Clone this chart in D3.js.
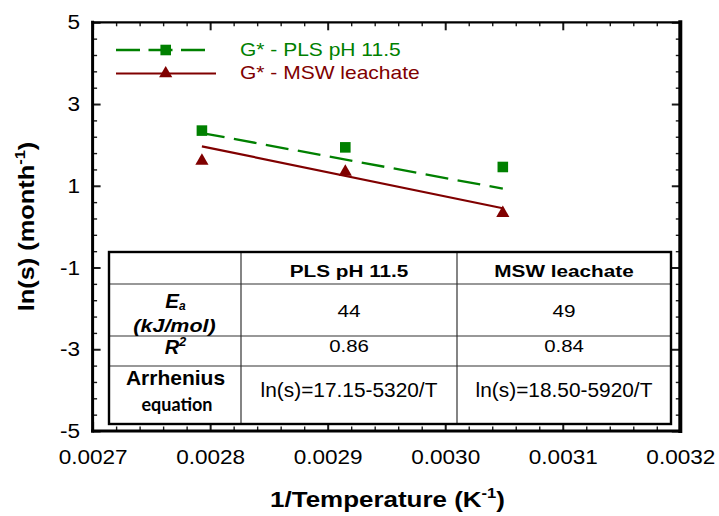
<!DOCTYPE html>
<html>
<head>
<meta charset="utf-8">
<script src="https://cdn.jsdelivr.net/npm/d3@7"></script>
<style>
  html, body { margin: 0; padding: 0; background: #fff; }
  svg { display: block; font-family: "Liberation Sans", Arial, sans-serif; }
</style>
</head>
<body>
<svg id="chart" width="719" height="516"></svg>
<script>
// Reciprocal temperature (1/K) of the three test temperatures
const invTemp = [0.002793, 0.002915, 0.003049];
// ln(s) measured for each leachant
const plsLn = [2.35, 1.94, 1.46];
const mswLn = [1.61, 1.34, 0.33];
const seriesNames = ["G* - PLS pH 11.5", "G* - MSW leachate"];

// Arrhenius fit summary
const tableHeaders = ["PLS pH 11.5", "MSW leachate"];
const activationEnergy = [44, 49];
const rSquared = [0.86, 0.84];
const fitIntercept = [17.15, 18.50];
const fitSlope = [5320, 5920];

// Axis ticks
const xTicks = [0.0027, 0.0028, 0.0029, 0.0030, 0.0031, 0.0032];
const yTicks = [-5, -3, -1, 1, 3, 5];

const GREEN = "#008000";
const RED = "#800000";

const svg = d3.select("#chart");
const plotLeft = 92.6, plotRight = 680.3, plotTop = 22.3, plotBottom = 431;

const x = d3.scaleLinear().domain([0.0027, 0.0032]).range([plotLeft, plotRight]);
const y = d3.scaleLinear().domain([-5, 5]).range([plotBottom, plotTop]);

// minor tick positions between the labelled ones
const xMinor = d3.range(0, 26).map(i => 0.0027 + i * 0.00002)
  .filter(v => Math.abs((v - 0.0027) / 0.0001 - Math.round((v - 0.0027) / 0.0001)) > 1e-6);
const yMinor = d3.range(0, 26).map(i => -5 + i * 0.4)
  .filter(v => Math.abs((v + 5) / 2 - Math.round((v + 5) / 2)) > 1e-6);

function styleTicks(g, width) {
  g.select(".domain").remove();
  g.selectAll(".tick line").attr("stroke", "#1a1a1a").attr("stroke-width", width);
}

// ---- axes (ticks point inward on all four sides) ----
const TX = 1.1; // horizontal stretch of tick labels
const gx = svg.append("g").attr("transform", `translate(0,${plotBottom})`)
  .call(d3.axisBottom(x).tickValues(xTicks).tickSize(-9).tickPadding(18)
    .tickFormat(d3.format(".4f")));
styleTicks(gx, 2);
gx.selectAll(".tick text").attr("font-size", 20.5).attr("fill", "#000")
  .attr("font-family", "Liberation Sans, Arial, sans-serif")
  .attr("transform", `scale(${TX},1)`);

svg.append("g").attr("transform", `translate(0,${plotBottom})`)
  .call(d3.axisBottom(x).tickValues(xMinor).tickSize(-4.5).tickFormat(""))
  .call(g => styleTicks(g, 1.4));

const gy = svg.append("g").attr("transform", `translate(${plotLeft},0)`)
  .call(d3.axisLeft(y).tickValues(yTicks).tickSize(-8).tickPadding(12.5 / TX)
    .tickFormat(d => String(d)));
styleTicks(gy, 2);
gy.selectAll(".tick text").attr("font-size", 20.5).attr("fill", "#000")
  .attr("font-family", "Liberation Sans, Arial, sans-serif")
  .attr("transform", `scale(${TX},1)`);

svg.append("g").attr("transform", `translate(${plotLeft},0)`)
  .call(d3.axisLeft(y).tickValues(yMinor).tickSize(-4.5).tickFormat(""))
  .call(g => styleTicks(g, 1.4));

svg.append("g").attr("transform", `translate(0,${plotTop})`)
  .call(d3.axisTop(x).tickValues(xTicks).tickSize(-8).tickFormat(""))
  .call(g => styleTicks(g, 2));
svg.append("g").attr("transform", `translate(0,${plotTop})`)
  .call(d3.axisTop(x).tickValues(xMinor).tickSize(-4).tickFormat(""))
  .call(g => styleTicks(g, 1.4));

svg.append("g").attr("transform", `translate(${plotRight},0)`)
  .call(d3.axisRight(y).tickValues(yTicks).tickSize(-8.5).tickFormat(""))
  .call(g => styleTicks(g, 2));
svg.append("g").attr("transform", `translate(${plotRight},0)`)
  .call(d3.axisRight(y).tickValues(yMinor).tickSize(-4.5).tickFormat(""))
  .call(g => styleTicks(g, 1.4));

// ---- plot frame ----
const frame = svg.append("g").attr("stroke", "#000").attr("stroke-linecap", "square");
frame.append("line").attr("x1", plotLeft).attr("x2", plotRight).attr("y1", plotTop).attr("y2", plotTop).attr("stroke-width", 2.3);
frame.append("line").attr("x1", plotLeft).attr("x2", plotRight).attr("y1", plotBottom).attr("y2", plotBottom).attr("stroke-width", 3.2);
frame.append("line").attr("x1", plotLeft).attr("x2", plotLeft).attr("y1", plotTop).attr("y2", plotBottom).attr("stroke-width", 3);
frame.append("line").attr("x1", plotRight).attr("x2", plotRight).attr("y1", plotTop).attr("y2", plotBottom).attr("stroke-width", 4);

// ---- Arrhenius fit lines: ln(s) = a - b / T ----
const xFit = d3.extent(invTemp);
const fitLine = d3.line().x(d => x(d[0])).y(d => y(d[1]));
const fits = [0, 1].map(i => xFit.map(v => [v, fitIntercept[i] - fitSlope[i] * v]));

svg.append("path").attr("d", fitLine(fits[0])).attr("fill", "none")
  .attr("stroke", GREEN).attr("stroke-width", 2.3).attr("stroke-dasharray", "23,9.5");
svg.append("path").attr("d", fitLine(fits[1])).attr("fill", "none")
  .attr("stroke", RED).attr("stroke-width", 2.2);

// ---- measured points ----
const square = d3.symbol().type(d3.symbolSquare).size(112);
const triangle = d3.symbol().type(d3.symbolTriangle).size(75);

svg.append("g").selectAll("path").data(invTemp.map((v, i) => [v, plsLn[i]])).join("path")
  .attr("d", square).attr("fill", GREEN)
  .attr("transform", d => `translate(${x(d[0])},${y(d[1])})`);
svg.append("g").selectAll("path").data(invTemp.map((v, i) => [v, mswLn[i]])).join("path")
  .attr("d", triangle).attr("fill", RED)
  .attr("transform", d => `translate(${x(d[0])},${y(d[1])})`);

// ---- legend ----
function stretchedText(parent, px, py, sx, anchor) {
  return parent.append("text")
    .attr("transform", `translate(${px},${py}) scale(${sx},1)`)
    .attr("text-anchor", anchor || "start");
}
const legend = svg.append("g");
legend.append("line").attr("x1", 116).attr("x2", 206).attr("y1", 50).attr("y2", 50)
  .attr("stroke", GREEN).attr("stroke-width", 2.3).attr("stroke-dasharray", "24,8.5");
legend.append("path").attr("d", square).attr("fill", GREEN).attr("transform", "translate(165.7,50)");
legend.append("line").attr("x1", 116).attr("x2", 216).attr("y1", 73.5).attr("y2", 73.5)
  .attr("stroke", RED).attr("stroke-width", 2.2);
legend.append("path").attr("d", triangle).attr("fill", RED).attr("transform", "translate(165.7,73.5)");
stretchedText(legend, 240, 56, 1.13).attr("font-size", 18.6).attr("fill", GREEN).text(seriesNames[0]);
stretchedText(legend, 240, 79.3, 1.13).attr("font-size", 18.6).attr("fill", RED).text(seriesNames[1]);

// ---- axis titles ----
const xTitle = stretchedText(svg, 387.5, 507.3, 1.18, "middle")
  .attr("font-size", 22).attr("font-weight", "bold");
xTitle.append("tspan").text("1/Temperature (K");
xTitle.append("tspan").attr("font-size", 14).attr("dy", -9).text("-1");
xTitle.append("tspan").attr("dy", 9).text(")");

const yTitle = svg.append("text")
  .attr("transform", "translate(33.8,226.5) rotate(-90) scale(1.18,1)")
  .attr("text-anchor", "middle").attr("font-size", 21.5).attr("font-weight", "bold");
yTitle.append("tspan").text("ln(s) (month");
yTitle.append("tspan").attr("font-size", 14).attr("dy", -9).text("-1");
yTitle.append("tspan").attr("dy", 9).text(")");

// ---- summary table ----
const colX = [109, 241, 457, 671];
const rowY = [252, 284, 336, 366, 424];
const table = svg.append("g");
table.append("rect").attr("x", colX[0]).attr("y", rowY[0])
  .attr("width", colX[3] - colX[0]).attr("height", rowY[4] - rowY[0]).attr("fill", "#fff");
const inner = table.append("g").attr("stroke", "#333").attr("stroke-width", 1.2);
colX.slice(1, 3).forEach(cx => inner.append("line")
  .attr("x1", cx).attr("x2", cx).attr("y1", rowY[0]).attr("y2", rowY[4]));
rowY.slice(1, 4).forEach(ry => inner.append("line")
  .attr("x1", colX[0]).attr("x2", colX[3]).attr("y1", ry).attr("y2", ry));
table.append("rect").attr("x", colX[0]).attr("y", rowY[0])
  .attr("width", colX[3] - colX[0]).attr("height", rowY[4] - rowY[0])
  .attr("fill", "none").attr("stroke", "#000").attr("stroke-width", 2.4);

const c0 = (colX[0] + colX[1]) / 2 + 0.5;
const colCenters = [(colX[1] + colX[2]) / 2, (colX[2] + colX[3]) / 2];

// header row
tableHeaders.forEach((h, i) =>
  stretchedText(table, colCenters[i], 276.7, 1.22, "middle")
    .attr("font-size", 17).attr("font-weight", "bold").text(h));

// activation energy row
const ea = table.append("text").attr("x", c0).attr("y", 308.3).attr("text-anchor", "middle")
  .attr("font-weight", "bold").attr("font-style", "italic").attr("font-size", 20.5);
ea.append("tspan").text("E");
ea.append("tspan").attr("font-size", 12).attr("dy", 2).text("a");
stretchedText(table, c0 - 1, 331.5, 1.13, "middle").attr("font-size", 19)
  .attr("font-weight", "bold").attr("font-style", "italic").text("(kJ/mol)");
activationEnergy.forEach((v, i) =>
  stretchedText(table, colCenters[i], 317.3, 1.22, "middle").attr("font-size", 17).text(v));

// coefficient of determination row
const r2 = table.append("text").attr("x", c0).attr("y", 354.3).attr("text-anchor", "middle")
  .attr("font-weight", "bold").attr("font-style", "italic").attr("font-size", 20);
r2.append("tspan").text("R");
r2.append("tspan").attr("font-size", 13).attr("dy", -8).text("2");
rSquared.forEach((v, i) =>
  stretchedText(table, colCenters[i], 351.7, 1.2, "middle").attr("font-size", 17).text(v.toFixed(2)));

// Arrhenius equation row
table.append("text").attr("x", c0).attr("y", 385.3).attr("text-anchor", "middle")
  .attr("font-size", 21).attr("font-weight", "bold").text("Arrhenius");
table.append("text").attr("x", c0 + 1.5).attr("y", 411.3).attr("text-anchor", "middle")
  .attr("font-family", "Lato, sans-serif").attr("font-size", 18).attr("font-weight", "bold")
  .text("equation");
fitIntercept.forEach((a, i) =>
  stretchedText(table, colCenters[i], 396.7, 1.07, "middle").attr("font-size", 19.5)
    .text(`ln(s)=${a.toFixed(2)}-${fitSlope[i]}/T`));
</script>
</body>
</html>
